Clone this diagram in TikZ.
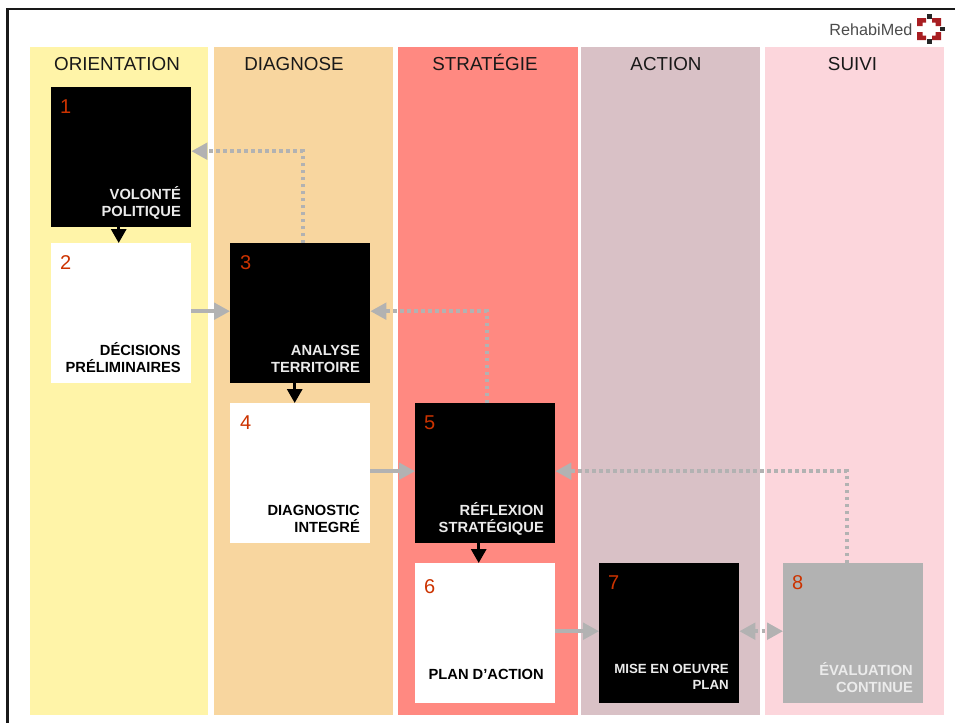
\documentclass[tikz,border=0pt]{standalone}
\usepackage{fontspec}
\setmainfont{Liberation Sans}
\usetikzlibrary{arrows.meta}
\definecolor{colA}{HTML}{FFF4A8}
\definecolor{colB}{HTML}{F8D69F}
\definecolor{colC}{HTML}{FF8981}
\definecolor{colD}{HTML}{D9C1C6}
\definecolor{colE}{HTML}{FCD6DC}
\definecolor{arr}{HTML}{B2B2B2}
\definecolor{numc}{HTML}{CC3300}
\definecolor{logored}{HTML}{A81E22}
\tikzset{
  x=1pt,y=-1pt,
  bandtitle/.style={anchor=base,font=\fontsize{18.8}{20}\selectfont,text=black!90,inner sep=0pt},
  darkbox/.style={fill=black,draw=none,minimum size=140pt,inner sep=0pt,anchor=north west},
  lightbox/.style={fill=white,draw=none,minimum size=140pt,inner sep=0pt,anchor=north west},
  greybox/.style={fill=arr,draw=none,minimum size=140pt,inner sep=0pt,anchor=north west},
  num/.style={anchor=base west,inner sep=0pt,text=numc,font=\fontsize{20}{22}\selectfont},
  lab/.style={anchor=base east,inner sep=0pt,align=right,font=\fontsize{14.7}{17}\selectfont\bfseries},
  labw/.style={lab,text=white!92!black},
  labk/.style={lab,text=black},
  labs/.style={lab,text=white!92!black,font=\fontsize{13.3}{15}\selectfont\bfseries},
  solidgrey/.style={draw=arr,line width=3.6pt,-{Triangle[length=16pt,width=16.5pt,fill=arr]}},
  solidblack/.style={draw=black,line width=3pt,-{Triangle[length=14pt,width=15pt,fill=black]}},
  dottedgrey/.style={draw=arr,line width=3.6pt,dash pattern=on 3.5pt off 3.5pt,-{Triangle[length=16pt,width=16.5pt,fill=arr]}},
  dottedboth/.style={draw=arr,line width=3.6pt,dash pattern=on 3.5pt off 3.5pt,{Triangle[length=16pt,width=16.5pt,fill=arr]}-{Triangle[length=16pt,width=16.5pt,fill=arr]}},
}
\begin{document}
\begin{tikzpicture}
\useasboundingbox (0,0) rectangle (955,723);
\fill[white] (0,0) rectangle (955,723);
% frame
\fill[black!90] (6,8) rectangle (955,10);
\fill[black!90] (6,8) rectangle (8.5,723);
% bands
\fill[colA] (30,47) rectangle (208,715);
\fill[colB] (214,47) rectangle (393,715);
\fill[colC] (398,47) rectangle (578,715);
\fill[colD] (581,47) rectangle (760,715);
\fill[colE] (765,47) rectangle (944,715);
\node[bandtitle] (tA) at (117,70) {ORIENTATION};
\node[bandtitle] (tB) at (294,70) {DIAGNOSE};
\node[bandtitle] (tC) at (485,70) {STRATÉGIE};
\node[bandtitle] (tD) at (666,70) {ACTION};
\node[bandtitle] (tE) at (852.5,70) {SUIVI};
% boxes
\node[darkbox] (b1) at (51,87) {};
\node[lightbox] (b2) at (51,243) {};
\node[darkbox] (b3) at (230,243) {};
\node[lightbox] (b4) at (230,403) {};
\node[darkbox] (b5) at (415,403) {};
\node[lightbox] (b6) at (415,563) {};
\node[darkbox] (b7) at (599,563) {};
\node[greybox] (b8) at (783,563) {};
% numbers
\node[num] (n1) at (60,113) {1};
\node[num] (n2) at (60,269) {2};
\node[num] (n3) at (240,269) {3};
\node[num] (n4) at (240,429) {4};
\node[num] (n5) at (424,429) {5};
\node[num] (n6) at (424,593) {6};
\node[num] (n7) at (608,589) {7};
\node[num] (n8) at (792,589) {8};
% labels
\node[labw] (l1a) at (181,199) {VOLONTÉ};
\node[labw] (l1b) at (181,216) {POLITIQUE};
\node[labk] (l2a) at (181,355) {DÉCISIONS};
\node[labk] (l2b) at (181,372) {PRÉLIMINAIRES};
\node[labw] (l3a) at (360,355) {ANALYSE};
\node[labw] (l3b) at (360,372) {TERRITOIRE};
\node[labk] (l4a) at (360,515) {DIAGNOSTIC};
\node[labk] (l4b) at (360,532) {INTEGRÉ};
\node[labw] (l5a) at (544,515) {RÉFLEXION};
\node[labw] (l5b) at (544,532) {STRATÉGIQUE};
\node[labk] (l6a) at (544,679) {PLAN D’ACTION};
\node[labs] (l7a) at (729,673) {MISE EN OEUVRE};
\node[labs] (l7b) at (729,689) {PLAN};
\node[labw] (l8a) at (913,675) {ÉVALUATION};
\node[labw] (l8b) at (913,692) {CONTINUE};
% connectors
\draw[solidblack] ([xshift=-2.5pt]b1.south) -- ([xshift=-2.5pt]b2.north);
\draw[solidblack] ([xshift=-5.5pt]b3.south) -- ([xshift=-5.5pt]b4.north);
\draw[solidblack] ([xshift=-6.5pt]b5.south) -- ([xshift=-6.5pt]b6.north);
\draw[solidgrey] ([yshift=2pt]b2.east) -- ([yshift=2pt]b3.west);
\draw[solidgrey] ([yshift=2pt]b4.east) -- ([yshift=2pt]b5.west);
\draw[solidgrey] ([yshift=2pt]b6.east) -- ([yshift=2pt]b7.west);
\draw[dottedgrey] ([xshift=2.5pt]b3.north) |- ([yshift=6pt]b1.east);
\draw[dottedgrey] ([xshift=1.5pt]b5.north) |- ([yshift=2pt]b3.east);
\draw[dottedgrey] ([xshift=-6.5pt]b8.north) |- ([yshift=2pt]b5.east);
\draw[dottedboth] ([yshift=2pt]b7.east) -- ([yshift=2pt]b8.west);
% logo
\node[anchor=base east,inner sep=0pt,text=black!70,font=\fontsize{16.2}{18}\selectfont] (logo) at (912.5,35.5) {RehabiMed};
\fill[logored] (917,18) -- (926,18) -- (926,22.5) -- (922.5,22.5) -- (922.5,26) -- (917,26) -- cycle
  (932,18) -- (941,18) -- (941,26) -- (935.5,26) -- (935.5,22.5) -- (932,22.5) -- cycle
  (917,32) -- (922.5,32) -- (922.5,35.5) -- (926,35.5) -- (926,40) -- (917,40) -- cycle
  (935.5,32) -- (941,32) -- (941,40) -- (932,40) -- (932,35.5) -- (935.5,35.5) -- cycle;
\fill[black!85] (926.5,14) rectangle (931.5,19);
\fill[black!85] (926.5,39) rectangle (931.5,44);
\fill[black!85] (940,27) rectangle (945,31);
\end{tikzpicture}
\end{document}
